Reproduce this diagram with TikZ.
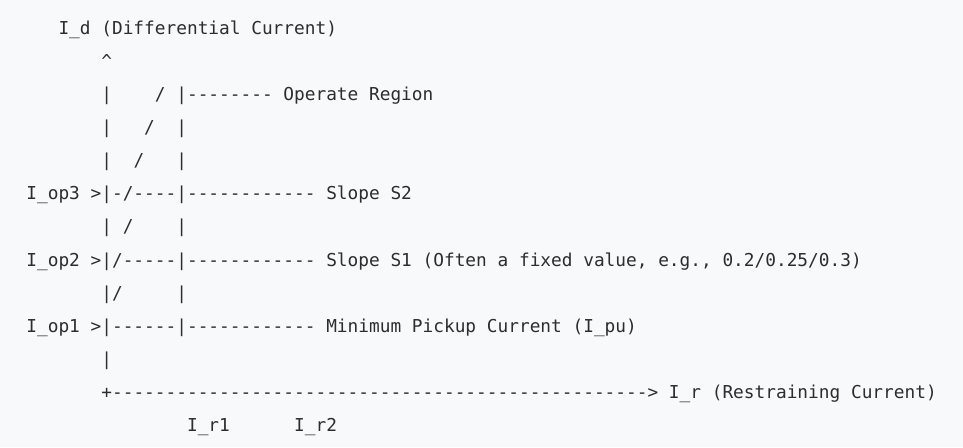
\documentclass[tikz,border=0pt]{standalone}
\usepackage{fontspec}
\setmonofont{DejaVu Sans Mono}
\definecolor{bgcol}{RGB}{248,249,251}
\definecolor{txtcol}{RGB}{45,45,45}
\tikzset{
  asciiline/.style={anchor=base west, inner sep=0pt, outer sep=0pt, text=txtcol,
    font=\ttfamily\fontsize{17.79pt}{20pt}\selectfont\frenchspacing}
}
\begin{document}
\begin{tikzpicture}[x=1pt,y=1pt]
\fill[bgcol] (0,0) rectangle (963,-447);
\useasboundingbox (0,0) rectangle (963,-447);
\def\xo{26.4}
\node[asciiline] (l1)  at (\xo,-34.0)  {~~~I\_d (Differential Current)};
\node[asciiline] (l2)  at (\xo,-67.2)  {~~~~~~~\textasciicircum};
\node[asciiline] (l3)  at (\xo,-100.3) {~~~~~~~|~~~~/~|-{}-{}-{}-{}-{}-{}-{}- Operate Region};
\node[asciiline] (l4)  at (\xo,-133.5) {~~~~~~~|~~~/~~|};
\node[asciiline] (l5)  at (\xo,-166.6) {~~~~~~~|~~/~~~|};
\node[asciiline] (l6)  at (\xo,-199.8) {I\_op3 >|-/-{}-{}-{}-|-{}-{}-{}-{}-{}-{}-{}-{}-{}-{}-{}- Slope S2};
\node[asciiline] (l7)  at (\xo,-232.9) {~~~~~~~|~/~~~~|};
\node[asciiline] (l8)  at (\xo,-266.1) {I\_op2 >|/-{}-{}-{}-{}-|-{}-{}-{}-{}-{}-{}-{}-{}-{}-{}-{}- Slope S1 (Often a fixed value, e.g., 0.2/0.25/0.3)};
\node[asciiline] (l9)  at (\xo,-299.2) {~~~~~~~|/~~~~~|};
\node[asciiline] (l10) at (\xo,-332.4) {I\_op1 >|-{}-{}-{}-{}-{}-|-{}-{}-{}-{}-{}-{}-{}-{}-{}-{}-{}- Minimum Pickup Current (I\_pu)};
\node[asciiline] (l11) at (\xo,-365.5) {~~~~~~~|};
\node[asciiline] (l12) at (\xo,-398.7) {~~~~~~~+-{}-{}-{}-{}-{}-{}-{}-{}-{}-{}-{}-{}-{}-{}-{}-{}-{}-{}-{}-{}-{}-{}-{}-{}-{}-{}-{}-{}-{}-{}-{}-{}-{}-{}-{}-{}-{}-{}-{}-{}-{}-{}-{}-{}-{}-{}-{}-{}-{}-> I\_r (Restraining Current)};
\node[asciiline] (l13) at (\xo,-431.8) {~~~~~~~~~~~~~~~I\_r1~~~~~~I\_r2};
\end{tikzpicture}
\end{document}
